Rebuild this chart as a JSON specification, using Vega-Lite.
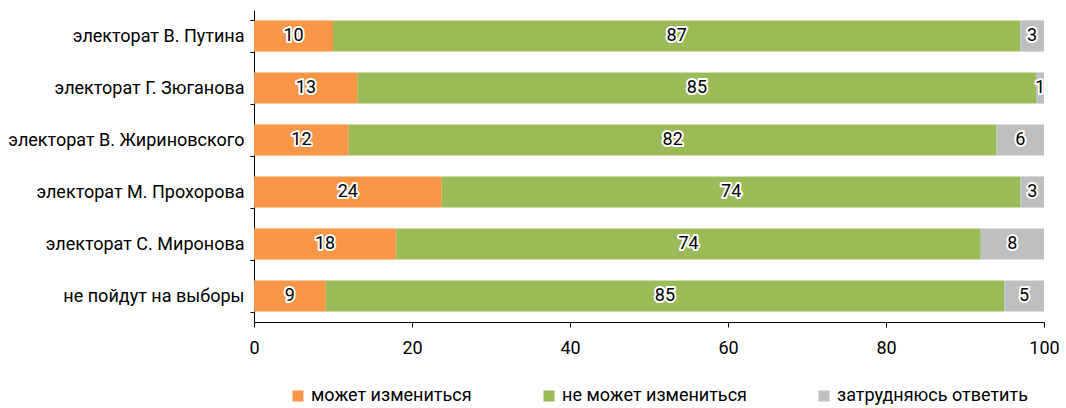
{
  "$schema": "https://vega.github.io/schema/vega-lite/v6.json",
  "width": 790,
  "height": 312,
  "autosize": {"type": "none"},
  "padding": {"left": 254, "top": 10, "right": 22, "bottom": 86},
  "background": "white",
  "config": {
    "font": "Roboto",
    "view": {"stroke": null},
    "axis": {"labelFont": "Roboto", "labelFontSize": 18, "labelColor": "#000000", "domainColor": "#000000", "tickColor": "#000000", "grid": false, "title": null},
    "legend": {"labelFont": "Roboto", "labelFontSize": 18, "labelColor": "#000000", "labelLimit": 400}
  },
  "data": {
    "values": [
      {"group": "электорат В. Путина", "cat": "может измениться", "k": 1, "value": 10},
      {"group": "электорат В. Путина", "cat": "не может измениться", "k": 2, "value": 87},
      {"group": "электорат В. Путина", "cat": "затрудняюсь ответить", "k": 3, "value": 3},
      {"group": "электорат Г. Зюганова", "cat": "может измениться", "k": 1, "value": 13},
      {"group": "электорат Г. Зюганова", "cat": "не может измениться", "k": 2, "value": 85},
      {"group": "электорат Г. Зюганова", "cat": "затрудняюсь ответить", "k": 3, "value": 1},
      {"group": "электорат В. Жириновского", "cat": "может измениться", "k": 1, "value": 12},
      {"group": "электорат В. Жириновского", "cat": "не может измениться", "k": 2, "value": 82},
      {"group": "электорат В. Жириновского", "cat": "затрудняюсь ответить", "k": 3, "value": 6},
      {"group": "электорат М. Прохорова", "cat": "может измениться", "k": 1, "value": 24},
      {"group": "электорат М. Прохорова", "cat": "не может измениться", "k": 2, "value": 74},
      {"group": "электорат М. Прохорова", "cat": "затрудняюсь ответить", "k": 3, "value": 3},
      {"group": "электорат С. Миронова", "cat": "может измениться", "k": 1, "value": 18},
      {"group": "электорат С. Миронова", "cat": "не может измениться", "k": 2, "value": 74},
      {"group": "электорат С. Миронова", "cat": "затрудняюсь ответить", "k": 3, "value": 8},
      {"group": "не пойдут на выборы", "cat": "может измениться", "k": 1, "value": 9},
      {"group": "не пойдут на выборы", "cat": "не может измениться", "k": 2, "value": 85},
      {"group": "не пойдут на выборы", "cat": "затрудняюсь ответить", "k": 3, "value": 5}
    ]
  },
  "transform": [
    {"stack": "value", "groupby": ["group"], "sort": [{"field": "k", "order": "ascending"}], "offset": "normalize", "as": ["x0", "x1"]},
    {"calculate": "(datum.x0 + datum.x1) / 2", "as": "xm"}
  ],
  "encoding": {
    "y": {
      "field": "group",
      "type": "nominal",
      "sort": ["электорат В. Путина", "электорат Г. Зюганова", "электорат В. Жириновского", "электорат М. Прохорова", "электорат С. Миронова", "не пойдут на выборы"],
      "scale": {"paddingInner": 0.4, "paddingOuter": 0.2},
      "axis": {"tickBand": "extent", "tickSize": 4, "labelPadding": 6, "labelLimit": 300}
    }
  },
  "layer": [
    {
      "mark": {"type": "bar"},
      "encoding": {
        "x": {
          "field": "x0",
          "type": "quantitative",
          "scale": {"domain": [0, 1], "nice": false},
          "axis": {"values": [0, 0.2, 0.4, 0.6, 0.8, 1], "labelExpr": "format(datum.value * 100, 'd')", "tickSize": 5, "labelPadding": 12, "labelFlush": false}
        },
        "x2": {"field": "x1"},
        "color": {
          "field": "cat",
          "type": "nominal",
          "scale": {"domain": ["может измениться", "не может измениться", "затрудняюсь ответить"], "range": ["#F79646", "#9BBB59", "#BFBFBF"]},
          "legend": {"title": null, "orient": "none", "legendX": 35, "legendY": 377, "direction": "horizontal", "symbolType": "square", "symbolSize": 121, "symbolStrokeWidth": 0, "symbolOpacity": 1, "columnPadding": 68, "labelOffset": 4}
        }
      }
    },
    {
      "mark": {"type": "text", "stroke": "white", "strokeWidth": 4, "strokeJoin": "round", "fontSize": 18, "fill": "white"},
      "encoding": {
        "x": {"field": "xm", "type": "quantitative"},
        "text": {"field": "value", "type": "quantitative"}
      }
    },
    {
      "mark": {"type": "text", "fill": "#000000", "fontSize": 18},
      "encoding": {
        "x": {"field": "xm", "type": "quantitative"},
        "text": {"field": "value", "type": "quantitative"}
      }
    }
  ]
}
